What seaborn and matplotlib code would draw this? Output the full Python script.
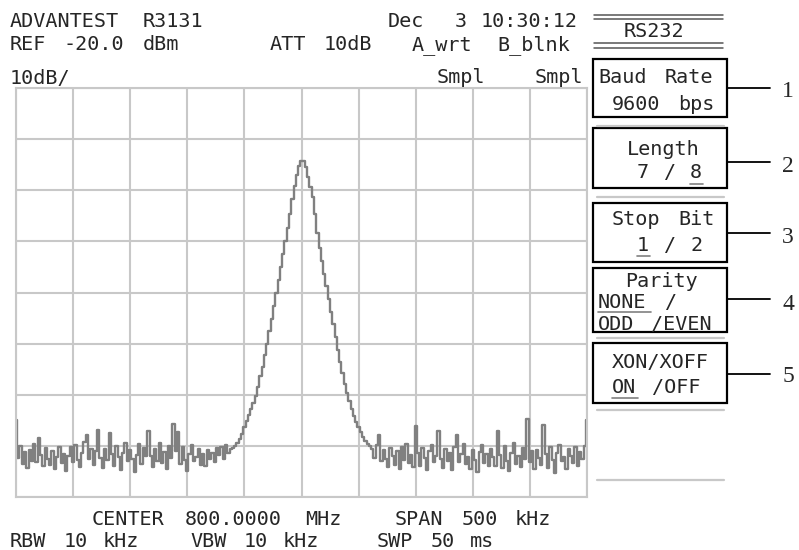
"""Spectrum analyser screen dump: RS232 menu on an ADVANTEST R3131.
"""
import numpy as np
import pandas as pd
import matplotlib
matplotlib.use("Agg")
import matplotlib.pyplot as plt
from matplotlib.lines import Line2D
from matplotlib.patches import Rectangle
import seaborn as sns

# sweep 799.75 .. 800.25 MHz, 251 points (2 kHz apart), levels in dBm
left_noise = [-85.0, -92.4, -90.1, -93.6, -91.2, -94.3, -90.8, -92.9, -89.6, -93.1,
              -88.4, -91.7, -94.0, -90.5, -92.6, -93.8, -91.0, -94.6, -92.2, -90.3,
              -93.4, -91.6, -95.0, -92.0, -90.2, -93.2, -89.8, -92.7, -94.1, -91.3,
              -89.2, -87.9, -92.5, -90.6, -93.7, -91.1, -86.9, -92.3, -94.4, -90.7,
              -92.8, -87.4, -91.5, -93.9, -90.0, -92.1, -94.8, -91.4, -89.5, -93.0,
              -90.9, -92.6, -95.2, -91.8, -89.7, -93.5, -90.4, -92.0, -87.0, -91.9,
              -94.2, -90.6, -92.9, -89.4, -93.3, -91.2, -94.5, -90.1, -92.4, -85.8,
              -91.0, -87.2, -93.6, -90.3, -92.7, -94.9, -91.5, -89.9, -93.0, -92.2,
              -90.7, -93.8, -91.6, -94.0, -90.9, -92.5, -91.3, -93.2, -90.4, -91.8,
              -90.2, -92.6, -89.8, -91.4, -90.7]
peak = [-90.5, -90.0, -89.4, -88.6, -87.6, -86.4, -85.2, -84.0, -82.8, -81.6,
        -80.3, -78.5, -76.4, -74.6, -72.3, -70.0, -67.6, -65.2, -62.7, -60.1,
        -57.6, -55.0, -52.5, -50.0, -47.3, -44.6, -41.8, -39.2, -37.0, -35.3,
        -34.3, -34.2, -35.4, -37.4, -39.3, -41.4, -44.6, -48.3, -51.3, -53.8,
        -56.3, -58.8, -61.3, -63.8, -66.2, -68.7, -71.2, -73.6, -75.8, -77.9,
        -79.7, -81.3, -82.8, -84.1, -85.3, -86.3, -87.3, -88.2, -89.0, -89.6,
        -90.0]
right_noise = [-90.6, -92.3, -89.9, -87.8, -93.0, -90.8, -92.6, -94.1, -90.4, -92.0,
               -93.7, -91.0, -94.5, -90.3, -92.8, -89.6, -93.4, -91.7, -94.2, -86.2,
               -91.3, -93.9, -90.5, -92.4, -94.7, -91.1, -89.8, -93.2, -91.9, -87.1,
               -92.6, -94.3, -90.7, -92.9, -91.4, -94.8, -90.2, -87.8, -93.1, -91.6,
               -89.7, -93.5, -92.1, -94.6, -90.9, -92.7, -95.1, -91.2, -89.9, -93.3,
               -91.5, -94.0, -90.6, -92.2, -93.9, -87.0, -91.8, -94.4, -90.1, -92.9,
               -95.0, -91.3, -89.4, -93.6, -91.9, -94.2, -90.5, -92.5, -84.8, -93.1,
               -91.0, -94.5, -90.8, -92.3, -93.7, -85.9, -91.6, -94.3, -90.2, -92.7,
               -95.3, -91.4, -89.8, -93.0, -92.1, -94.6, -90.6, -91.9, -93.4, -90.3,
               -94.0, -91.2, -92.5, -90.1, -84.9]

center_mhz = 800.0
span_mhz = 0.5
ref_dbm = -20.0
db_per_div = 10

menu_title = ["Baud Rate", "Length", "Stop Bit", "Parity", "XON/XOFF"]
menu_value = ["9600 bps", "7 / 8", "1 / 2", "NONE /\nODD /EVEN", "ON /OFF"]
menu_num = ["1", "2", "3", "4", "5"]

W, H = 799, 550
GRID = "#c8c8c8"

level = left_noise + peak + right_noise
freq = np.linspace(center_mhz - span_mhz / 2, center_mhz + span_mhz / 2, len(level))
df = pd.DataFrame({"freq": freq, "level": level})

sns.set_style("white")
plt.rcParams["font.family"] = ["DejaVu Sans Mono"]

fig = plt.figure(figsize=(W / 100, H / 100), dpi=100)
ax = fig.add_axes([16 / W, (H - 497) / H, 571 / W, 409 / H])

sns.lineplot(data=df, x="freq", y="level", ax=ax, color="#808080",
             lw=1.7, drawstyle="steps-mid")

bottom = ref_dbm - 8 * db_per_div
ax.set_xlim(freq[0], freq[-1])
ax.set_ylim(bottom, ref_dbm)
ax.set_xticks(np.linspace(freq[0], freq[-1], 11))
ax.set_yticks(np.arange(bottom, ref_dbm + 1, db_per_div))
ax.grid(True, color=GRID, lw=1.5)
ax.tick_params(length=0, labelbottom=False, labelleft=False)
ax.set_xlabel("")
ax.set_ylabel("")
for s in ax.spines.values():
    s.set_color(GRID)
    s.set_linewidth(1.5)


def fx(x):
    return x / W


def fy(y):
    return 1 - y / H


def put(x, y, s, pitch=13.3, size=14.5, **kw):
    # place word by word so the screen font's wide pitch is kept
    col = 0
    for word in s.split(" "):
        if word:
            fig.text(fx(x + col * pitch), fy(y), word, fontsize=size,
                     va="baseline", ha="left", **kw)
        col += len(word) + 1


def hline(x0, x1, y, color="black", lw=1.5):
    fig.add_artist(Line2D([fx(x0), fx(x1)], [fy(y), fy(y)],
                          transform=fig.transFigure, color=color, lw=lw))


# header
put(10, 27, "ADVANTEST R3131")
put(388, 27, "Dec  3 10:30:12")
put(10, 50, "REF -20.0 dBm")
put(270, 50, "ATT 10dB")
put(412, 50, "A_wrt")
put(497, 50, "B_blnk")
put(10, 84, "10dB/")
put(437, 83, "Smpl")
put(535, 83, "Smpl")

# footer
put(92, 525, "CENTER 800.0000 MHz")
put(395, 525, "SPAN 500 kHz")
put(10, 547, "RBW 10 kHz")
put(190, 547, "VBW 10 kHz")
put(377, 547, "SWP 50 ms")

# menu header
hline(594, 723, 15, color="#555555", lw=1.1)
hline(594, 723, 19, color="#555555", lw=1.1)
put(624, 37, "RS232")
hline(594, 723, 43, color="#555555", lw=1.1)
hline(594, 723, 48, color="#555555", lw=1.1)

# soft keys
boxes = [(59, 117), (128, 188), (203, 262), (268, 332), (343, 403)]
conn_y = [88, 162, 233, 299, 374]
num_y = [97, 172, 243, 310, 382]
title_pos = [(598, 83), (627, 155), (612, 225), (625, 287), (612, 368)]
value_pos = [(612, 110), (637, 178), (637, 251), (598, 308), (612, 393)]

for i in range(5):
    y0, y1 = boxes[i]
    fig.add_artist(Rectangle((fx(593), fy(y1)), (727 - 593) / W, (y1 - y0) / H,
                             transform=fig.transFigure, fill=False,
                             ec="black", lw=1.6))
    hline(727, 770, conn_y[i], lw=1.3)
    fig.text(fx(788), fy(num_y[i]), menu_num[i], fontsize=17, ha="center",
             va="baseline", family=["Liberation Serif", "DejaVu Serif"])
    put(*title_pos[i], menu_title[i])
    vx, vy = value_pos[i]
    for k, row in enumerate(menu_value[i].split("\n")):
        put(vx, vy + k * 22, row)

# underlined current settings
hline(690, 703, 184, color="#808080", lw=1.2)
hline(637, 650, 256, color="#808080", lw=1.2)
hline(598, 651, 312, color="#808080", lw=1.2)
hline(612, 638, 398, color="#808080", lw=1.2)

# gray separators in the soft key column
for y in [126, 197, 338, 410, 480]:
    hline(597, 724, y, color=GRID, lw=1.6)

fig.savefig("out.png", dpi=100)
